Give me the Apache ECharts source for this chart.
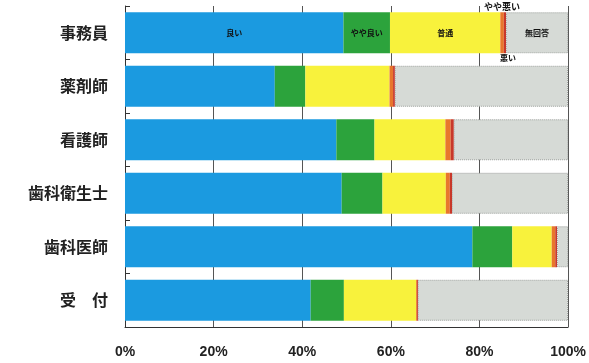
<!DOCTYPE html>
<html>
<head>
<meta charset="utf-8">
<script src="https://cdn.jsdelivr.net/npm/echarts@6/dist/echarts.min.js"></script>
<style>
  html, body { margin: 0; padding: 0; background: #ffffff; }
  #chart { width: 589px; height: 363px; }
</style>
</head>
<body>
<div id="chart"></div>
<script>
// Job categories (top to bottom)
const categories = ['事務員', '薬剤師', '看護師', '歯科衛生士', '歯科医師', '受　付'];

// Response shares, percent of each group
const good       = [49.3, 33.8, 47.7, 48.9, 78.4, 41.9]; // 良い
const fairlyGood = [10.5,  6.9,  8.6,  9.2,  9.0,  7.5]; // やや良い
const average    = [24.9, 19.0, 16.0, 14.3,  8.9, 16.3]; // 普通
const fairlyBad  = [ 0.8,  0.8,  1.2,  0.9,  0.8,  0.2]; // やや悪い
const bad        = [ 0.5,  0.4,  0.7,  0.5,  0.4,  0.2]; // 悪い
const noAnswer   = [14.0, 39.1, 25.8, 26.2,  2.5, 33.9]; // 無回答

const seriesNames = ['良い', 'やや良い', '普通', 'やや悪い', '悪い', '無回答'];
const seriesData  = [good, fairlyGood, average, fairlyBad, bad, noAnswer];
const colors = ['#1b9ae0', '#2ca33c', '#f8f23c', '#e8762c', '#c8382a', '#d6dad6'];

const tickLabels = ['0%', '20%', '40%', '60%', '80%', '100%'];

const chart = echarts.init(document.getElementById('chart'), null, { renderer: 'canvas' });

// Segment names are written on the first bar only
function labelFor(i) {
  const base = {
    show: true,
    color: '#111',
    fontSize: 8,
    fontWeight: 'bold',
    fontFamily: 'Noto Sans CJK JP',
    formatter: p => (p.dataIndex === 0 ? p.seriesName : '')
  };
  if (i === 3) return Object.assign(base, { position: 'top', distance: 0, fontSize: 9, offset: [0, -1] });
  if (i === 4) return Object.assign(base, { position: 'bottom', distance: 1, offset: [3, 0] });
  return Object.assign(base, { position: 'inside' });
}

const series = seriesNames.map((name, i) => ({
  name: name,
  type: 'bar',
  stack: 'total',
  barWidth: 41,
  data: seriesData[i],
  itemStyle: {
    color: colors[i],
    borderColor: i === 5 ? '#9a9e9a' : 'transparent',
    borderWidth: i === 5 ? 1 : 0,
    borderType: 'dotted'
  },
  label: labelFor(i),
  emphasis: { disabled: true }
}));

chart.setOption({
  animation: false,
  backgroundColor: '#ffffff',
  grid: { left: 125, right: 20, top: 6, bottom: 36, containLabel: false },
  xAxis: {
    type: 'value',
    min: 0,
    max: 100,
    interval: 20,
    axisLine: { show: true, lineStyle: { color: '#333', width: 1 } },
    axisTick: { show: false },
    splitLine: { show: true, lineStyle: { color: '#555', width: 1 } },
    axisLabel: {
      margin: 18,
      color: '#222',
      fontSize: 14,
      fontWeight: 'bold',
      fontFamily: 'Liberation Sans',
      formatter: v => tickLabels[v / 20]
    }
  },
  yAxis: {
    type: 'category',
    data: categories,
    inverse: true,
    axisLine: { show: true, lineStyle: { color: '#333', width: 1 } },
    axisTick: { show: true, inside: true, length: 5, lineStyle: { color: '#333' } },
    axisLabel: {
      margin: 17,
      color: '#222',
      fontSize: 16,
      fontWeight: 'bold',
      fontFamily: 'Noto Sans CJK JP'
    }
  },
  series: series
});
</script>
</body>
</html>
